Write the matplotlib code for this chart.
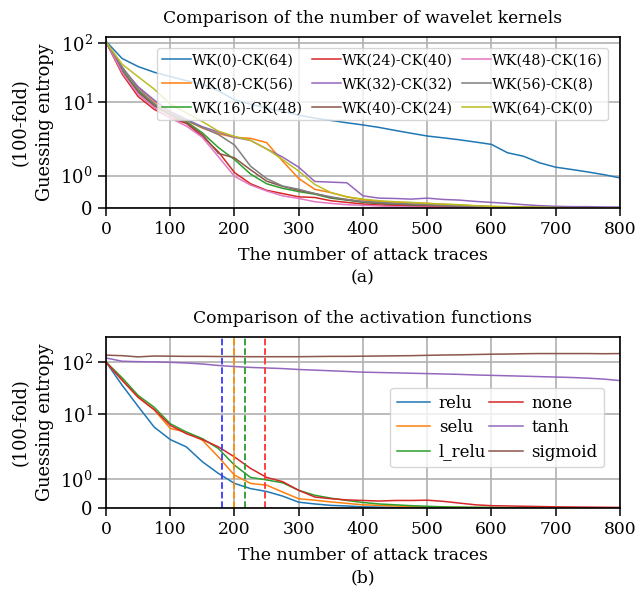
import numpy as np
import matplotlib
matplotlib.use('Agg')
import matplotlib.pyplot as plt
from matplotlib.ticker import NullLocator

plt.rcParams['font.family'] = ['DejaVu Serif']
plt.rcParams['mathtext.fontset'] = 'custom'
plt.rcParams['mathtext.rm'] = 'DejaVu Serif'
plt.rcParams['font.size'] = 12
plt.rcParams['axes.linewidth'] = 1.2

# attack traces where values were read
traces = [0, 25, 50, 75, 100, 125, 150, 175, 200, 225, 250, 275, 300, 325, 350, 375,
          400, 425, 450, 475, 500, 525, 550, 575, 600, 625, 650, 675, 700, 725, 750, 775, 800]

# (a) wavelet kernels
wk_labels = ['WK(0)-CK(64)', 'WK(8)-CK(56)', 'WK(16)-CK(48)', 'WK(24)-CK(40)', 'WK(32)-CK(32)',
             'WK(40)-CK(24)', 'WK(48)-CK(16)', 'WK(56)-CK(8)', 'WK(64)-CK(0)']
wk0 = [108, 55, 40, 32, 27, 23, 20, 15.4, 10.8, 9.3, 8.2, 7.4, 6.6, 6.0, 5.6, 5.2,
       4.86, 4.5, 4.1, 3.75, 3.44, 3.25, 3.06, 2.85, 2.65, 2.04, 1.83, 1.49, 1.3, 1.21, 1.12, 1.03, 0.93]
wk8 = [105, 38, 17.6, 10.3, 7.1, 5.6, 4.4, 3.7, 3.3, 3.2, 2.8, 1.57, 0.91, 0.58, 0.48, 0.35,
       0.26, 0.21, 0.18, 0.17, 0.15, 0.12, 0.1, 0.07, 0.05, 0.04, 0.03, 0.025, 0.02, 0.015, 0.01, 0.01, 0.01]
wk16 = [105, 35, 15.4, 9.1, 6.8, 5.4, 3.8, 2.4, 1.65, 1.05, 0.75, 0.61, 0.51, 0.43, 0.31, 0.25,
        0.18, 0.14, 0.11, 0.09, 0.08, 0.06, 0.05, 0.04, 0.03, 0.025, 0.02, 0.02, 0.02, 0.015, 0.01, 0.01, 0.01]
wk24 = [105, 30, 12.3, 7.9, 6.1, 5.1, 3.4, 2.1, 1.1, 0.75, 0.55, 0.45, 0.35, 0.33, 0.23, 0.18,
        0.13, 0.1, 0.08, 0.06, 0.05, 0.04, 0.03, 0.025, 0.02, 0.02, 0.02, 0.015, 0.01, 0.01, 0.01, 0.01, 0.01]
wk32 = [105, 38, 18.1, 10.7, 7.4, 5.8, 4.6, 3.9, 3.3, 3.0, 2.3, 1.78, 1.3, 0.82, 0.8, 0.78,
        0.38, 0.31, 0.3, 0.28, 0.31, 0.27, 0.25, 0.21, 0.18, 0.15, 0.11, 0.08, 0.06, 0.05, 0.05, 0.04, 0.04]
wk40 = [105, 33, 14.6, 8.8, 6.6, 5.2, 3.6, 2.0, 1.74, 1.2, 0.83, 0.67, 0.55, 0.45, 0.33, 0.26,
        0.2, 0.16, 0.13, 0.11, 0.09, 0.07, 0.06, 0.05, 0.04, 0.03, 0.025, 0.02, 0.02, 0.015, 0.01, 0.01, 0.01]
wk48 = [105, 32, 13.5, 8.4, 6.0, 4.7, 3.3, 1.8, 0.98, 0.71, 0.53, 0.38, 0.3, 0.2, 0.15, 0.11,
        0.09, 0.07, 0.05, 0.04, 0.03, 0.025, 0.02, 0.02, 0.02, 0.015, 0.015, 0.01, 0.01, 0.01, 0.01, 0.01, 0.01]
wk56 = [105, 40, 16.5, 9.5, 6.9, 5.6, 4.5, 3.6, 2.6, 1.34, 0.91, 0.68, 0.58, 0.45, 0.35, 0.27,
        0.21, 0.18, 0.15, 0.13, 0.11, 0.09, 0.07, 0.06, 0.05, 0.04, 0.03, 0.025, 0.02, 0.015, 0.01, 0.01, 0.01]
wk64 = [105, 44, 26.8, 16.5, 9.3, 7.1, 5.4, 4.0, 3.4, 3.0, 2.3, 1.65, 1.15, 0.73, 0.48, 0.35,
        0.28, 0.23, 0.2, 0.18, 0.15, 0.13, 0.11, 0.08, 0.06, 0.05, 0.04, 0.03, 0.02, 0.015, 0.01, 0.01, 0.01]
wk_series = [wk0, wk8, wk16, wk24, wk32, wk40, wk48, wk56, wk64]

# (b) activation functions
act_labels = ['relu', 'selu', 'l_relu', 'none', 'tanh', 'sigmoid']
relu = [100, 36, 14, 6.3, 4.06, 3.14, 1.86, 1.23, 0.86, 0.68, 0.58, 0.42, 0.21, 0.15, 0.1, 0.08,
        0.05, 0.04, 0.03, 0.025, 0.02, 0.015, 0.01, 0.01, 0.01, 0.01, 0.01, 0.01, 0.01, 0.01, 0.01, 0.01, 0.01]
selu = [100, 45, 21, 12.0, 6.0, 5.3, 3.97, 2.2, 1.16, 0.86, 0.8, 0.56, 0.33, 0.28, 0.22, 0.17,
        0.12, 0.1, 0.08, 0.06, 0.05, 0.04, 0.03, 0.025, 0.02, 0.015, 0.01, 0.01, 0.01, 0.01, 0.01, 0.01, 0.01]
l_relu = [100, 50, 22.8, 13.5, 7.1, 5.3, 4.2, 2.96, 1.65, 1.07, 0.98, 0.88, 0.62, 0.45, 0.35, 0.27,
          0.2, 0.15, 0.12, 0.09, 0.07, 0.05, 0.04, 0.035, 0.03, 0.02, 0.02, 0.015, 0.01, 0.01, 0.01, 0.01, 0.01]
none = [100, 45, 21, 12.2, 6.7, 5.0, 4.06, 3.14, 2.2, 1.47, 1.07, 0.92, 0.62, 0.39, 0.33, 0.29,
        0.27, 0.25, 0.27, 0.27, 0.28, 0.24, 0.18, 0.12, 0.09, 0.08, 0.07, 0.06, 0.05, 0.045, 0.04, 0.035, 0.03]
tanh = [120, 104, 102, 101, 99, 96, 92, 86, 82, 79, 77, 75, 72, 70, 68, 66,
        64, 63, 62, 61, 60, 59, 58, 56.5, 55.5, 54.5, 53.5, 52.5, 51.5, 50.5, 49, 47, 44]
sigmoid = [136, 133, 126, 131, 130, 129, 129, 128, 128, 127, 127, 127, 127, 128, 129, 129,
           130, 131, 132, 133, 135, 137, 138, 140, 142, 143, 145, 146, 146, 146, 146, 145, 146]
act_series = [relu, selu, l_relu, none, tanh, sigmoid]

# traces where each activation first reaches GE < 1
vlines = [180, 200, 216, 248]
vline_colors = ['#3a3aff', 'darkorange', '#2a9a2a', '#ff3333']

# y axis: symlog-like, 0..1 linear, decades below/above 10 of different height
P1, P10, P100 = 0.198, 0.645, 1.0


def fwd(v):
    v = np.asarray(v, dtype=float)
    lv = np.log10(np.maximum(v, 1e-12))
    return np.where(v <= 1, P1 * v,
                    np.where(v <= 10, P1 + (P10 - P1) * lv, P10 + (P100 - P10) * (lv - 1)))


def inv(f):
    f = np.asarray(f, dtype=float)
    return np.where(f <= P1, f / P1,
                    np.where(f <= P10, 10 ** ((f - P1) / (P10 - P1)), 10 ** (1 + (f - P10) / (P100 - P10))))


def style_axis(ax, ytop, title, sub):
    ax.set_yscale('function', functions=(fwd, inv))
    ax.set_xlim(0, 800)
    ax.set_ylim(0, ytop)
    ax.set_xticks(range(0, 801, 100))
    ax.set_yticks([0, 1, 10, 100])
    ax.set_yticklabels(['0', r'$10^{0}$', r'$10^{1}$', r'$10^{2}$'])
    ax.yaxis.set_minor_locator(NullLocator())
    ax.grid(True, color='#b0b0b0', linewidth=1.2)
    ax.set_axisbelow(True)
    ax.tick_params(labelsize=12.3, length=6, width=1.1)
    ax.tick_params(axis='y', labelsize=13)
    ax.set_title(title, fontsize=12.3, pad=10)
    ax.set_xlabel('The number of attack traces\n' + sub, fontsize=12.5, linespacing=1.45, labelpad=6)
    ax.set_ylabel('(100-fold)\nGuessing entropy', fontsize=12.8, linespacing=1.4, labelpad=5)


fig = plt.figure(figsize=(6.36, 5.9), dpi=100)
ax1 = fig.add_axes([0.1667, 0.647, 0.808, 0.291])
ax2 = fig.add_axes([0.1667, 0.1385, 0.808, 0.291])

for lab, ys in zip(wk_labels, wk_series):
    ax1.plot(traces, ys, linewidth=1.1, label=lab)
style_axis(ax1, 130, 'Comparison of the number of wavelet kernels', '(a)')
ax1.legend(ncol=3, loc='upper right', fontsize=10.4, handlelength=2.0, handletextpad=0.1,
           columnspacing=0.6, labelspacing=0.7, borderpad=0.35, borderaxespad=0.8)

for lab, ys in zip(act_labels, act_series):
    ax2.plot(traces, ys, linewidth=1.1, label=lab)
for xv, c in zip(vlines, vline_colors):
    ax2.axvline(xv, color=c, linestyle='--', linewidth=1.3)
style_axis(ax2, 310, 'Comparison of the activation functions', '(b)')
ax2.legend(ncol=2, loc='center right', bbox_to_anchor=(0.985, 0.47), fontsize=12,
           handlelength=2.0, handletextpad=0.5, columnspacing=0.2, labelspacing=0.45)

fig.savefig('out.png', dpi=100)
